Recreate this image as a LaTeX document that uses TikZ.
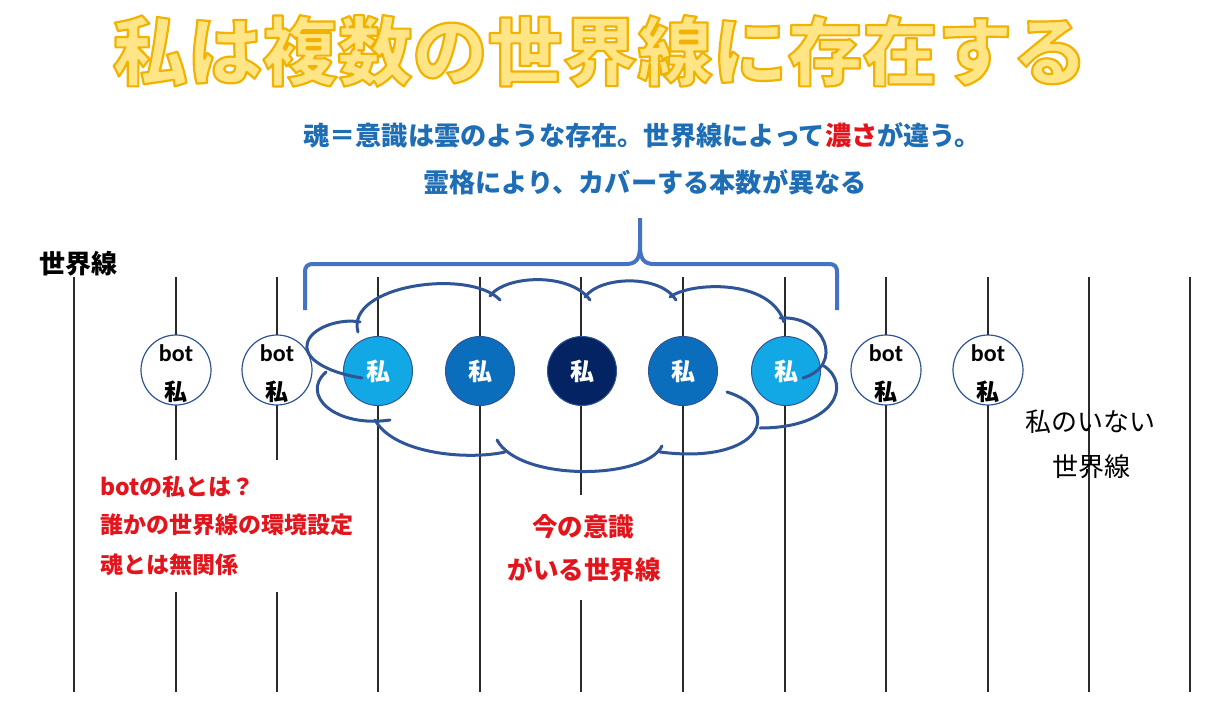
\documentclass[tikz,border=0pt]{standalone}
\usepackage{fontspec}
\newfontfamily\jp{Noto Sans CJK JP}
\newfontfamily\latn{Carlito}
\definecolor{lineblk}{HTML}{2A2A2A}
\definecolor{bracec}{HTML}{4472C4}
\definecolor{cloudc}{HTML}{2F5597}
\definecolor{clight}{HTML}{12A8E6}
\definecolor{cmid}{HTML}{0A6EBD}
\definecolor{cdark}{HTML}{042362}
\definecolor{subblue}{HTML}{1F6EB5}
\definecolor{redtxt}{HTML}{E3151C}
\definecolor{titlefill}{HTML}{FFE585}
\newcommand{\outlinedtitle}[1]{\special{pdf:literal direct 0.95 0.70 0 RG 2.2 w 1 j 2 Tr}#1\special{pdf:literal direct 0 Tr}}
\tikzset{
  wl/.style={draw=lineblk, line width=1.1pt},
  me/.style={circle, minimum size=69pt, inner sep=0pt, draw=cloudc, line width=1pt,
             text=white, font=\jp\bfseries\fontsize{24}{24}\selectfont},
  botc/.style={circle, minimum size=70pt, inner sep=0pt, draw=cloudc, line width=1.2pt, fill=white},
  bottxt/.style={inner sep=0pt, font=\latn\bfseries\fontsize{24}{24}\selectfont},
  botme/.style={inner sep=0pt, font=\jp\bfseries\fontsize{23}{23}\selectfont},
  cloud/.style={draw=cloudc, line width=3pt, line cap=round},
  titletxt/.style={inner sep=0pt, font=\jp\bfseries\fontsize{75}{75}\selectfont},
  subtxt/.style={inner sep=0pt, text=subblue, font=\jp\bfseries\fontsize{26.2}{26.2}\selectfont},
  redtx/.style={inner sep=0pt, text=redtxt, font=\jp\bfseries\fontsize{23}{23}\selectfont},
  redbig/.style={inner sep=0pt, text=redtxt, font=\jp\bfseries\fontsize{25.5}{25.5}\selectfont},
  blk/.style={inner sep=0pt, text=black, font=\jp\bfseries\fontsize{26}{26}\selectfont},
  blkm/.style={inner sep=0pt, text=black, font=\jp\fontsize{26}{26}\selectfont},
}
\begin{document}
\begin{tikzpicture}[x=1pt,y=-1pt]
\useasboundingbox[fill=white] (0,0) rectangle (1213,720);

% world lines
\foreach \x in {74,378,480,683,785,886,988,1089,1190}
  \draw[wl] (\x,277) -- (\x,692);
\foreach \x in {176,277}{
  \draw[wl] (\x,277) -- (\x,460);
  \draw[wl] (\x,592) -- (\x,692);
}
\draw[wl] (581,277) -- (581,495);
\draw[wl] (581,600) -- (581,692);

% bot circles
\foreach \x/\n in {176/1,277/2,886/3,988/4}{
  \node[botc] (bot\n) at (\x,370) {};
  \node[bottxt] (bott\n) at (\x,353) {bot};
  \node[botme] (botm\n) at (\x,392) {私};
}

% my circles
\node[me, fill=clight] (m1) at (378,371) {私};
\node[me, fill=cmid]   (m2) at (480,371) {私};
\node[me, fill=cdark]  (m3) at (582,371) {私};
\node[me, fill=cmid]   (m4) at (683,371) {私};
\node[me, fill=clight] (m5) at (786,371) {私};

% cloud (separate bumps)
\draw[cloud] (362,378) .. controls (335,374) and (305,362) .. (307,345) .. controls (309,328) and (340,318) .. (360,322);
\draw[cloud] (358,332) .. controls (345,285) and (470,268) .. (500,300);
\draw[cloud] (490,296) .. controls (505,275) and (570,272) .. (590,300);
\draw[cloud] (585,297) .. controls (600,276) and (660,274) .. (676,300);
\draw[cloud] (670,297) .. controls (690,282) and (770,278) .. (784,322);
\draw[cloud] (780,318) .. controls (825,315) and (845,365) .. (803,378);
\draw[cloud] (824,366) .. controls (852,385) and (835,428) .. (760,428);
\draw[cloud] (727,392) .. controls (785,410) and (760,465) .. (660,452);
\draw[cloud] (497,440) .. controls (520,482) and (645,480) .. (662,446);
\draw[cloud] (375,420) .. controls (395,455) and (470,460) .. (505,452);
\draw[cloud] (390,420) .. controls (335,428) and (300,395) .. (326,372);

% brace
\draw[bracec, line width=4pt, line join=round]
  (305,310) -- (305,273) .. controls (305,266) and (307,264) .. (314,264)
  -- (626,264) .. controls (636,264) and (640,259) .. (640,246) -- (640,218);
\draw[bracec, line width=4pt, line join=round]
  (837,310) -- (837,273) .. controls (837,266) and (835,264) .. (828,264)
  -- (654,264) .. controls (644,264) and (640,259) .. (640,246);

% title with outline
\node[titletxt, text=titlefill] (title) at (600,51) {\outlinedtitle{私は複数の世界線に存在する}};

% subtitle
\node[subtxt] (sub1) at (642,135) {魂＝意識は雲のような存在。世界線によって\textcolor{redtxt}{濃さ}が違う。};
\node[subtxt] (sub2) at (645,182) {霊格により、カバーする本数が異なる};

% labels
\node[blk, anchor=west] (wlabel) at (39,264) {世界線};
\node[blkm] (none1) at (1090,422) {私のいない};
\node[blkm] (none2) at (1091,467) {世界線};

\node[redtx, anchor=west] (r1) at (100,487) {botの私とは？};
\node[redtx, anchor=west] (r2) at (100,525) {誰かの世界線の環境設定};
\node[redtx, anchor=west] (r3) at (100,565) {魂とは無関係};

\node[redbig] (c1) at (583,527) {今の意識};
\node[redbig] (c2) at (584,570) {がいる世界線};
\end{tikzpicture}
\end{document}
